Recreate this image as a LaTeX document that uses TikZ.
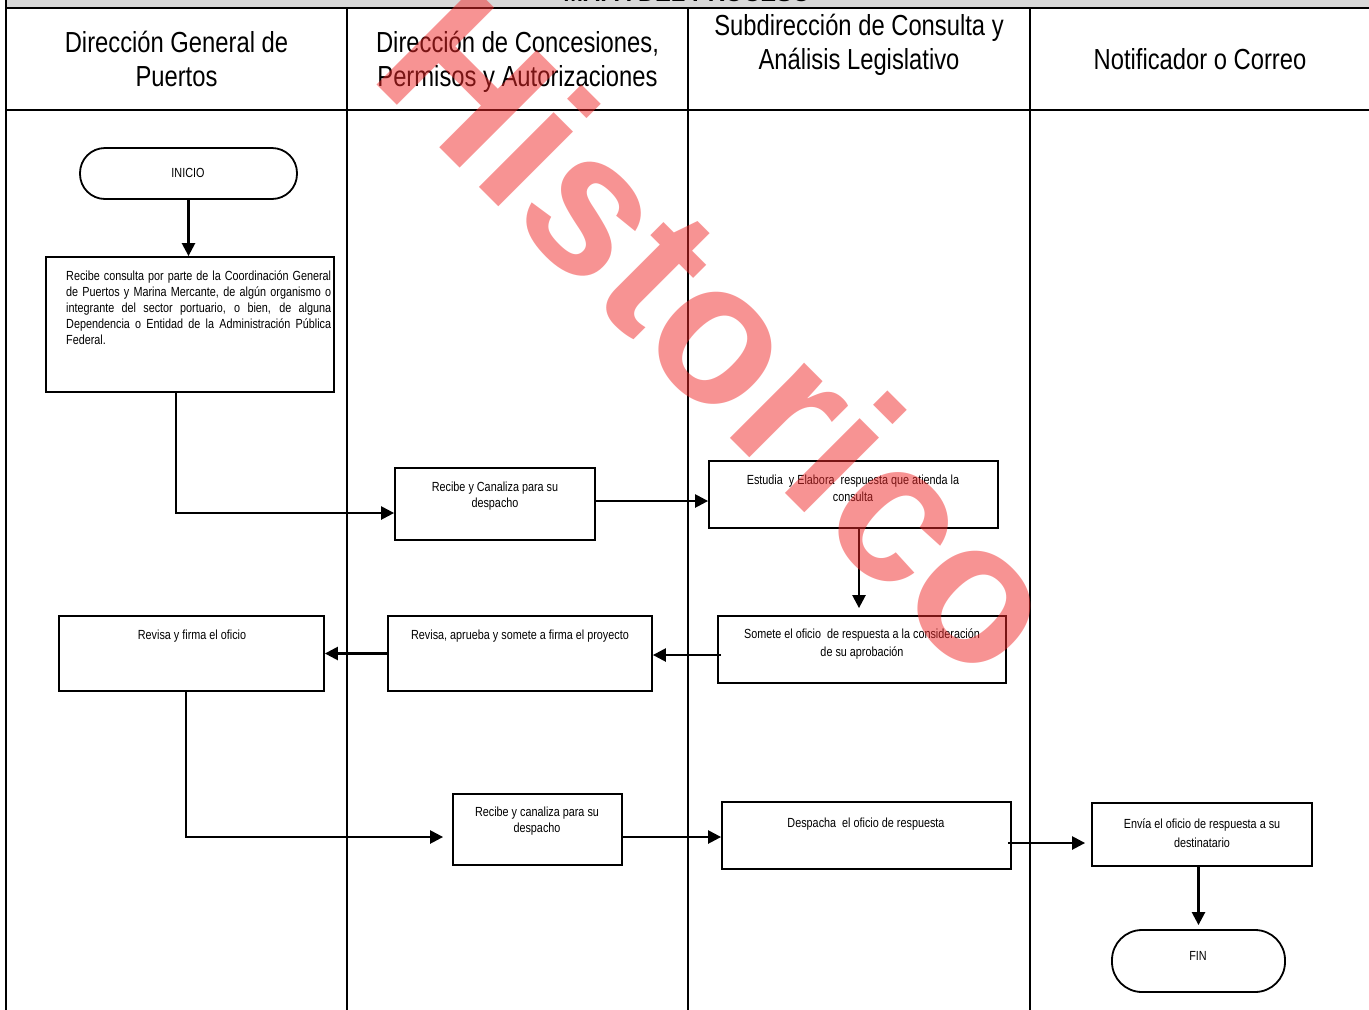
\documentclass[tikz,border=0pt]{standalone}
\usepackage{fontspec}
\setmainfont{Liberation Sans}
\newfontfamily\nf[FakeStretch=0.82]{Liberation Sans}
\usetikzlibrary{arrows.meta}
\definecolor{wmred}{RGB}{240,40,40}
\definecolor{bargray}{RGB}{216,216,216}
\tikzset{
  frameline/.style={line width=2pt},
  procbox/.style 2 args={draw, line width=1.8pt, inner sep=0pt, minimum width=#1pt, minimum height=#2pt},
  termbox/.style n args={3}{draw, line width=1.8pt, inner sep=0pt, rounded corners=#3pt, minimum width=#1pt, minimum height=#2pt},
  lbl/.style={font={\nf\fontsize{13.2}{16}\selectfont}, align=center, inner sep=0pt, anchor=base},
  hdr/.style={font={\nf\fontsize{29}{34}\selectfont}, align=center, inner sep=0pt, anchor=base},
  conn/.style={line width=2.4pt, -{Triangle[length=13pt,width=13pt]}},
}
\begin{document}
\begin{tikzpicture}[x=1pt,y=-1pt]
\useasboundingbox (0,0) rectangle (1369,1010);
\clip (0,0) rectangle (1369,1010);
% top bar
\fill[bargray] (6,0) rectangle (1369,8);
\node[font={\bfseries\fontsize{23.7}{28}\selectfont}, anchor=base, inner sep=0pt] (title) at (687,1.5) {MAPA DEL PROCESO};
% frame
\draw[frameline] (6,8) -- (1369,8);
\draw[frameline] (6,0) -- (6,1010);
\draw[frameline] (347,8) -- (347,1010);
\draw[frameline] (688,8) -- (688,1010);
\draw[frameline] (1030,8) -- (1030,1010);
\draw[frameline] (6,110) -- (1369,110);
% headers (base = baseline of the last line)
\node[hdr] (h1) at (176.5,86) {Dirección General de\\Puertos};
\node[hdr] (h2) at (517.5,86) {Dirección de Concesiones,\\Permisos y Autorizaciones};
\node[hdr] (h3) at (859,69) {Subdirección de Consulta y\\Análisis Legislativo};
\node[hdr] (h4) at (1200,69) {Notificador o Correo};
% shapes
\node[termbox={217}{51}{25}] (inicio) at (188.5,173.5) {};
\node[procbox={288}{135}] (b1) at (190,324.5) {};
\node[procbox={200}{72}] (b2) at (495,504) {};
\node[procbox={289}{67}] (b3) at (853.5,494.5) {};
\node[procbox={288}{67}] (b4) at (862,649.5) {};
\node[procbox={264}{75}] (b5) at (520,653.5) {};
\node[procbox={265}{75}] (b6) at (191.5,653.5) {};
\node[procbox={169}{71}] (b7) at (537.5,829.5) {};
\node[procbox={289}{67}] (b8) at (866.5,835.5) {};
\node[procbox={220}{63}] (b9) at (1202,834.5) {};
\node[termbox={173}{62}{30}] (fin) at (1198.5,961) {};
% texts
\node[lbl] (tinicio) at (188,177) {INICIO};
\node[font={\nf\fontsize{13.2}{16}\selectfont}, text width=265pt, align=justify, inner sep=0pt, anchor=base west] (t1) at (66,280.5)
 {\tolerance=10000\hyphenpenalty=10000 Recibe consulta por parte de la Coordinación General\linebreak de Puertos y Marina Mercante, de algún organismo o\linebreak integrante del sector portuario, o bien, de alguna\linebreak Dependencia o Entidad de la Administración Pública\linebreak Federal.};
\node[lbl] (t2) at (495,507.5) {Recibe y Canaliza para su\\despacho};
\node[lbl, font={\nf\fontsize{13.2}{17}\selectfont}] (t3) at (853,501.5) {Estudia~ y Elabora~ respuesta que atienda la\\consulta};
\node[lbl, font={\nf\fontsize{13.2}{18}\selectfont}] (t4) at (862,656.5) {Somete el oficio~ de respuesta a la consideración\\de su aprobación};
\node[lbl] (t5) at (520,639.5) {Revisa, aprueba y somete a firma el proyecto};
\node[lbl] (t6) at (192,639.5) {Revisa y firma el oficio};
\node[lbl] (t7) at (537,832.5) {Recibe y canaliza para su\\despacho};
\node[lbl] (t8) at (866,827.5) {Despacha~ el oficio de respuesta};
\node[lbl, font={\nf\fontsize{13.2}{19}\selectfont}] (t9) at (1202,847.5) {Envía el oficio de respuesta a su\\destinatario};
\node[lbl] (tfin) at (1198,960) {FIN};
% connectors
\draw[conn] (inicio.south) -- (inicio.south |- b1.north);
\draw[conn] ([xshift=-14pt]b1.south) |- ([yshift=-9pt]b2.west);
\draw[conn] ([yshift=3pt]b2.east) -- ([yshift=3pt]b2.east -| b3.west);
\draw[conn, shorten >=7pt] ([xshift=5.5pt]b3.south) -- ([xshift=5.5pt]b3.south |- b4.north);
\draw[conn, shorten <=-4pt] ([yshift=-5.5pt]b4.west) -- ([yshift=-5.5pt]b4.west -| b5.east);
\draw[conn] (b5.west) -- (b5.west -| b6.east);
\draw[conn, shorten >=9pt] ([xshift=-5.5pt]b6.south) |- ([yshift=-7.5pt]b7.west);
\draw[conn] ([yshift=-7.5pt]b7.east) -- ([yshift=-7.5pt]b7.east -| b8.west);
\draw[conn, shorten <=-4pt, shorten >=6pt] ([yshift=-7.5pt]b8.east) -- ([yshift=-7.5pt]b8.east -| b9.west);
\draw[conn, shorten >=4pt] (b9.south -| fin.north) -- (fin.north);
% watermark
\node[rotate=-45, anchor=base west, inner sep=0pt, text=wmred, text opacity=0.5, font={\bfseries\fontsize{200}{240}\selectfont}] (wmark) at (367,75) {Historico};
\end{tikzpicture}
\end{document}
